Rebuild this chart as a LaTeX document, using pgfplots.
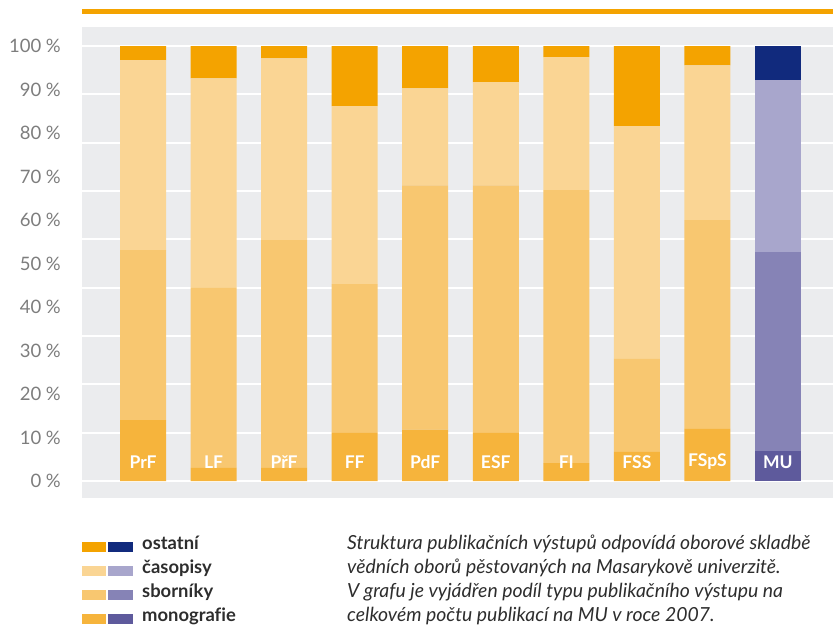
\documentclass[border=0pt]{standalone}
\usepackage{fontspec}
\setmainfont{Lato}[Ligatures=NoCommon]
\usepackage{pgfplots}
\usepackage{pgfplotstable}
\pgfplotsset{compat=1.18}

\definecolor{bggrey}{RGB}{235,236,238}
\definecolor{tickgrey}{RGB}{125,125,125}
\definecolor{txtgrey}{RGB}{45,45,45}
\definecolor{oOst}{RGB}{244,163,0}
\definecolor{oCas}{RGB}{250,213,148}
\definecolor{oSb}{RGB}{248,199,112}
\definecolor{oMono}{RGB}{246,180,60}
\definecolor{uOst}{RGB}{17,42,125}
\definecolor{uCas}{RGB}{168,166,204}
\definecolor{uSb}{RGB}{134,131,182}
\definecolor{uMono}{RGB}{94,90,156}

% podíly v %, fakulty (oranžové) a MU (fialové)
\pgfplotstableread{
x  mono  sb    cas   ost   umono usb   ucas  uost
0  14.0  39.1  43.7  3.2   0     0     0     0
1  3.0   41.4  48.2  7.4   0     0     0     0
2  3.0   52.4  41.8  2.8   0     0     0     0
3  11.1  34.2  40.9  13.8  0     0     0     0
4  11.8  56.2  22.3  9.7   0     0     0     0
5  11.1  56.9  23.7  8.3   0     0     0     0
6  4.1   62.8  30.6  2.5   0     0     0     0
7  6.7   21.4  53.5  18.4  0     0     0     0
8  12.0  48.0  35.6  4.4   0     0     0     0
9  0     0     0     0     6.9   45.7  39.6  7.8
}\datatable

\pgfplotsset{frame/.style={
    at={(0,0)}, anchor=south west,
    scale only axis, width=751pt, height=471pt,
    xmin=-0.865, xmax=9.78,
    ymin=-3.9, ymax=104.4}}

\begin{document}
\begin{tikzpicture}[x=1pt,y=1pt,
    blab/.style={text=white, font=\fontsize{17.5}{19}\selectfont\bfseries, anchor=center, inner sep=0pt}]
\begin{axis}[
    frame,
    ybar stacked, bar width=46pt,
    axis background/.style={fill=bggrey},
    axis line style={draw=none},
    major tick length=0pt,
    xtick=\empty,
    ytick={0,10,...,100},
    yticklabels={0 \%,10 \%,20 \%,30 \%,40 \%,50 \%,60 \%,70 \%,80 \%,90 \%,100 \%},
    yticklabel style={anchor=east, inner sep=0pt, xshift=-21pt,
        font=\fontsize{18.5}{20}\selectfont, text=tickgrey},
    extra y ticks={0,11.111,22.222,33.333,44.444,55.556,66.667,77.778,88.889,100},
    extra y tick labels={},
    extra y tick style={ymajorgrids=true, major grid style={white, line width=2pt}},
]
\addplot[fill=oMono, draw=none] table[x=x, y=mono] {\datatable};
\addplot[fill=oSb, draw=none] table[x=x, y=sb] {\datatable};
\addplot[fill=oCas, draw=none] table[x=x, y=cas] {\datatable};
\addplot[fill=oOst, draw=none] table[x=x, y=ost] {\datatable};
\addplot[fill=uMono, draw=none] table[x=x, y=umono] {\datatable};
\addplot[fill=uSb, draw=none] table[x=x, y=usb] {\datatable};
\addplot[fill=uCas, draw=none] table[x=x, y=ucas] {\datatable};
\addplot[fill=uOst, draw=none] table[x=x, y=uost] {\datatable};
\end{axis}

% popisky sloupců (druhá, skrytá osa nad sloupci)
\begin{axis}[frame, hide axis]
\node[blab] at (axis cs:0,4.4) {PrF};
\node[blab] at (axis cs:1,4.4) {LF};
\node[blab] at (axis cs:2,4.4) {PřF};
\node[blab] at (axis cs:3,4.4) {FF};
\node[blab] at (axis cs:4,4.4) {PdF};
\node[blab] at (axis cs:5,4.4) {ESF};
\node[blab] at (axis cs:6,4.4) {FI};
\node[blab] at (axis cs:7,4.4) {FSS};
\node[blab] at (axis cs:8,4.4) {FSpS};
\node[blab] at (axis cs:9,4.4) {MU};
\end{axis}

% horní oranžová linka
\fill[oOst] (0,484) rectangle (751,489);

% legenda
\foreach \yy/\ca/\cb/\lab in {-49/oOst/uOst/ostatní, -73/oCas/uCas/časopisy, -97/oSb/uSb/sborníky, -121/oMono/uMono/monografie}{
  \fill[\ca] (0,\yy-5) rectangle (24,\yy+5);
  \fill[\cb] (26,\yy-5) rectangle (51,\yy+5);
  \node[anchor=mid west, inner sep=0pt, text=txtgrey, font=\fontsize{18.4}{20}\selectfont\bfseries] at (60,\yy) {\lab};
}

% popis
\begin{scope}[every node/.style={anchor=mid west, inner sep=0pt, text=txtgrey, font=\fontsize{19.4}{22}\selectfont\itshape}]
\node at (265,-49) {Struktura publikačních výstupů odpovídá oborové skladbě};
\node at (265,-73) {vědních oborů pěstovaných na Masarykově univerzitě.};
\node at (265,-97) {V grafu je vyjádřen podíl typu publikačního výstupu na};
\node at (265,-121) {celkovém počtu publikací na MU v roce 2007.};
\end{scope}

\pgfresetboundingbox
\path[use as bounding box] (-82,-129) rectangle (751,498);
\end{tikzpicture}
\end{document}
